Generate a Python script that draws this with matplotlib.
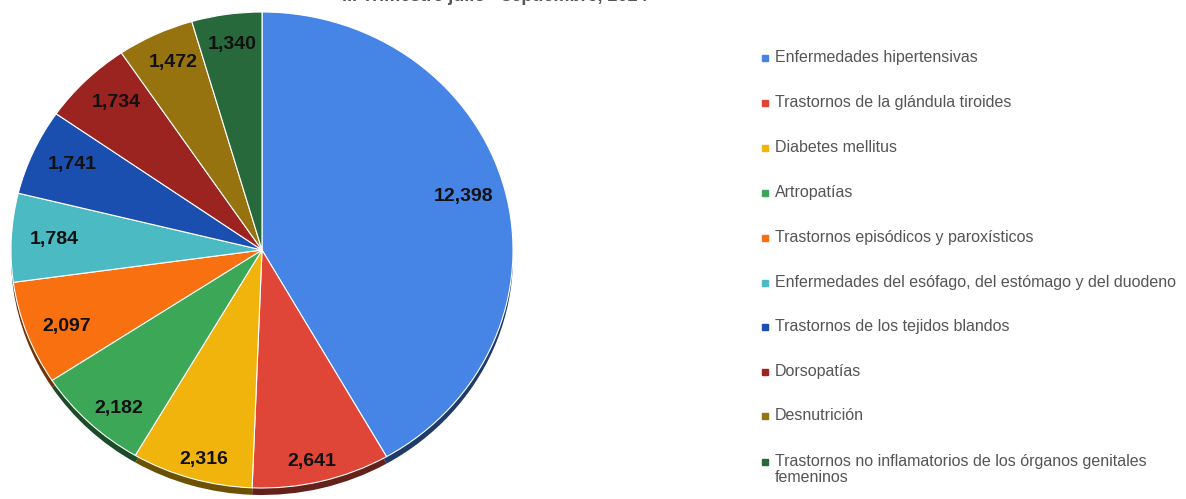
import numpy as np
import matplotlib
matplotlib.use("Agg")
import matplotlib.pyplot as plt

# data
categories = [
    "Enfermedades hipertensivas",
    "Trastornos de la glándula tiroides",
    "Diabetes mellitus",
    "Artropatías",
    "Trastornos episódicos y paroxísticos",
    "Enfermedades del esófago, del estómago y del duodeno",
    "Trastornos de los tejidos blandos",
    "Dorsopatías",
    "Desnutrición",
    "Trastornos no inflamatorios de los órganos genitales\nfemeninos",
]
values = [12398, 2641, 2316, 2182, 2097, 1784, 1741, 1734, 1472, 1340]
colors = ["#4684e6", "#df4638", "#f0b40c", "#3ca757", "#f87010",
          "#4cbac3", "#1a4fb0", "#9b2320", "#97730f", "#27693a"]
title = "III Trimestre julio - septiembre, 2024"

W, H = 1186, 499
plt.rcParams["font.family"] = ["Liberation Sans", "DejaVu Sans"]
fig = plt.figure(figsize=(W / 100, H / 100), dpi=100)

# pie area in pixel coords (slightly squashed, like the 3D view)
cx, cy, rx, ry = 262, 250, 251, 238
ax = fig.add_axes([(cx - rx) / W, 1 - (cy + ry) / H, 2 * rx / W, 2 * ry / H])
ax.axis("off")


def darken(c, f=0.45):
    rgb = np.array(matplotlib.colors.to_rgb(c))
    return tuple(rgb * f)


# shadow edge for the 3D look
depth = 7 / ry
ax.pie(values, colors=[darken(c) for c in colors], startangle=90,
       counterclock=False, radius=1, center=(0, -depth),
       wedgeprops=dict(linewidth=0))
ax.pie(values, colors=colors, startangle=90, counterclock=False, radius=1,
       wedgeprops=dict(edgecolor="white", linewidth=0.8))
ax.set_aspect("auto")
ax.set_xlim(-1, 1)
ax.set_ylim(-1, 1)

total = sum(values)
cum = np.cumsum([0] + values)
for i, v in enumerate(values):
    mid = (cum[i] + v / 2) / total * 2 * np.pi
    x = 0.83 * np.sin(mid)
    y = 0.89 * np.cos(mid) * (0.98 if np.cos(mid) > 0 else 1.03)
    ax.text(x, y, f"{v:,}", ha="center", va="center", fontsize=14,
            fontweight="bold", color="#111111")

# legend
leg_y = [58, 103, 148, 193, 238, 283, 327, 372, 416, 462]
for lab, col, yy in zip(categories, colors, leg_y):
    fig.patches.append(plt.Rectangle(((762) / W, 1 - (yy + 3) / H), 6 / W, 6 / H,
                                     transform=fig.transFigure, color=col))
    fig.text(775 / W, 1 - (yy - 8) / H, lab, ha="left", va="top",
             fontsize=11.5, color="#555555", linespacing=1.1)

fig.text(495 / W, 1 - 1 / H, title, ha="center", va="baseline",
         fontsize=13, fontweight="bold", color="#555555")

fig.savefig("out.png", dpi=100)
